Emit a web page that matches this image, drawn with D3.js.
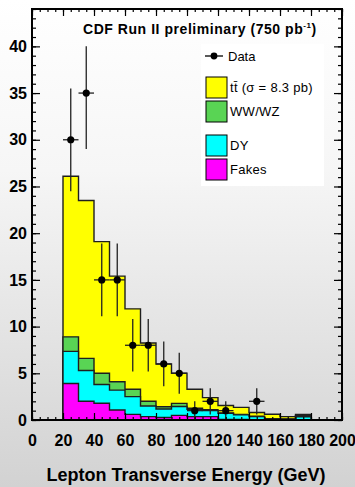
<!DOCTYPE html>
<html>
<head>
<meta charset="utf-8">
<script src="https://d3js.org/d3.v7.min.js"></script>
<style>
  body { margin: 0; padding: 0; overflow: hidden; }
  text { font-family: "Liberation Sans", Arial, sans-serif; }
</style>
</head>
<body>
<div id="chart"></div>
<script>
// bin low edges (GeV), 10 GeV wide
var binLow = [20, 30, 40, 50, 60, 70, 80, 90, 100, 110, 120, 130, 140, 150, 160, 170];
var binWidth = 10;

// background components (events per bin)
var fakes = [3.9, 2.0, 1.8, 1.07, 0.6, 0.36, 0.27, 0.5, 0.36, 0.36, 0.05, 0.05, 0.03, 0.02, 0.02, 0.0];
var dy    = [3.45, 3.3, 2.0, 2.13, 1.9, 1.14, 0.9, 0.95, 0.78, 0.64, 0.66, 0.5, 0.33, 0.08, 0.06, 0.35];
var wwwz  = [1.55, 1.3, 1.2, 0.9, 0.8, 0.5, 0.25, 0.33, 0.11, 0.1, 0.04, 0.05, 0.04, 0.05, 0.02, 0.1];
var ttbar = [17.2, 16.9, 14.1, 11.3, 8.6, 6.25, 4.58, 3.22, 2.05, 1.3, 0.8, 0.75, 0.4, 0.47, 0.26, 0.15];

// data points
var dataX = [25, 35, 45, 55, 65, 75, 85, 95, 105, 115, 125, 145];
var dataY = [30, 35, 15, 15, 8, 8, 6, 5, 1, 2, 1, 2];
var errLo = [5.5, 6.0, 3.9, 3.9, 2.8, 2.8, 2.4, 2.2, 1.0, 1.4, 1.0, 1.4];
var errHi = [5.5, 5.0, 3.9, 3.9, 2.8, 2.8, 2.4, 2.2, 1.0, 1.4, 1.0, 1.4];

// tick labels
var xTicks = [0, 20, 40, 60, 80, 100, 120, 140, 160, 180, 200];
var yTicks = [0, 5, 10, 15, 20, 25, 30, 35, 40];

var W = 355, H = 487;
var frame = { left: 32, right: 342, top: 9, bottom: 420 };

var x = d3.scaleLinear().domain([0, 200]).range([frame.left, frame.right]);
var y = d3.scaleLinear().domain([0, 44]).range([frame.bottom, frame.top]);

var svg = d3.select("#chart").append("svg")
    .attr("width", W)
    .attr("height", H);

// slide-like grey gradient background
var grad = svg.append("defs").append("linearGradient")
    .attr("id", "bg").attr("x1", 0).attr("y1", 0).attr("x2", 0).attr("y2", 1);
grad.append("stop").attr("offset", "0").attr("stop-color", "#ffffff");
grad.append("stop").attr("offset", "0.35").attr("stop-color", "#f6f6f6");
grad.append("stop").attr("offset", "1").attr("stop-color", "#d2d2d2");
svg.append("rect").attr("width", W).attr("height", H).attr("fill", "url(#bg)");

// stack the components
var rows = binLow.map(function (b, i) {
  return { lo: b, fakes: fakes[i], dy: dy[i], wwwz: wwwz[i], ttbar: ttbar[i] };
});
var keys = ["fakes", "dy", "wwwz", "ttbar"];
var colors = { fakes: "#ff00ff", dy: "#00ffff", wwwz: "#59d454", ttbar: "#ffff00" };
var series = d3.stack().keys(keys)(rows);

function stepPath(s) {
  var p = "M" + x(binLow[0]) + "," + y(0);
  s.forEach(function (d, i) {
    p += "L" + x(binLow[i]) + "," + y(d[1]) + "L" + x(binLow[i] + binWidth) + "," + y(d[1]);
  });
  p += "L" + x(binLow[binLow.length - 1] + binWidth) + "," + y(0) + "Z";
  return p;
}

// draw cumulative histograms, largest first
svg.selectAll(".hist")
    .data(series.slice().reverse())
    .enter().append("path")
    .attr("class", "hist")
    .attr("d", stepPath)
    .attr("fill", function (s) { return colors[s.key]; })
    .attr("stroke", "#1e1e1e")
    .attr("stroke-width", 1.4)
    .attr("stroke-linejoin", "miter");

// data with error bars
var pts = svg.append("g");
dataX.forEach(function (cx, i) {
  pts.append("line")
      .attr("x1", x(cx)).attr("x2", x(cx))
      .attr("y1", y(dataY[i] - errLo[i])).attr("y2", y(dataY[i] + errHi[i]))
      .attr("stroke", "#222").attr("stroke-width", 1.3);
  pts.append("line")
      .attr("x1", x(cx - binWidth / 2)).attr("x2", x(cx + binWidth / 2))
      .attr("y1", y(dataY[i])).attr("y2", y(dataY[i]))
      .attr("stroke", "#222").attr("stroke-width", 1.3);
  pts.append("circle")
      .attr("cx", x(cx)).attr("cy", y(dataY[i]))
      .attr("r", 3.6).attr("fill", "#000");
});

// axes: ticks point inwards on all four sides
var minorX = d3.range(0, 201, 5);
var minorY = d3.range(0, 45, 1);

svg.append("g").attr("transform", "translate(0," + frame.bottom + ")")
    .call(d3.axisBottom(x).tickValues(minorX).tickSize(-3).tickFormat(""));
svg.append("g").attr("transform", "translate(0," + frame.bottom + ")")
    .call(d3.axisBottom(x).tickValues(xTicks).tickSize(-7).tickPadding(15).tickFormat(d3.format("d")));
svg.append("g").attr("transform", "translate(0," + frame.top + ")")
    .call(d3.axisTop(x).tickValues(minorX).tickSize(-3).tickFormat(""));
svg.append("g").attr("transform", "translate(0," + frame.top + ")")
    .call(d3.axisTop(x).tickValues(xTicks).tickSize(-7).tickFormat(""));

svg.append("g").attr("transform", "translate(" + frame.left + ",0)")
    .call(d3.axisLeft(y).tickValues(minorY).tickSize(-4).tickFormat(""));
svg.append("g").attr("transform", "translate(" + frame.left + ",0)")
    .call(d3.axisLeft(y).tickValues(yTicks).tickSize(-8).tickPadding(5).tickFormat(d3.format("d")));
svg.append("g").attr("transform", "translate(" + frame.right + ",0)")
    .call(d3.axisRight(y).tickValues(minorY).tickSize(-4).tickFormat(""));
svg.append("g").attr("transform", "translate(" + frame.right + ",0)")
    .call(d3.axisRight(y).tickValues(yTicks).tickSize(-8).tickFormat(""));

svg.selectAll(".domain").remove();
svg.selectAll(".tick line").attr("stroke", "#000").attr("stroke-width", 1.2);
svg.selectAll(".tick text")
    .attr("fill", "#000")
    .style("font-family", "'Liberation Sans', Arial, sans-serif")
    .style("font-size", "16px")
    .style("font-weight", "bold");

// frame
svg.append("rect")
    .attr("x", frame.left).attr("y", frame.top)
    .attr("width", frame.right - frame.left).attr("height", frame.bottom - frame.top)
    .attr("fill", "none").attr("stroke", "#000").attr("stroke-width", 2);

// title
var title = svg.append("text")
    .attr("x", 83).attr("y", 34)
    .style("font-size", "14px").style("font-weight", "bold")
    .style("letter-spacing", "0.55px");
title.append("tspan").text("CDF Run II preliminary (750 pb");
title.append("tspan").attr("dy", -6).style("font-size", "8px").text("-1");
title.append("tspan").attr("dy", 6).text(")");

// legend
var lg = svg.append("g");
lg.append("rect").attr("x", 201).attr("y", 44).attr("width", 123).attr("height", 142).attr("fill", "#fff");
lg.append("line").attr("x1", 205).attr("x2", 223).attr("y1", 56).attr("y2", 56)
    .attr("stroke", "#000").attr("stroke-width", 1.3);
lg.append("circle").attr("cx", 214).attr("cy", 56).attr("r", 3.4).attr("fill", "#000");
lg.append("text").attr("x", 228).attr("y", 61).style("font-size", "13px").text("Data");

var legItems = [
  { key: "ttbar", label: "tt\u0304 (\u03c3 = 8.3 pb)", y: 77 },
  { key: "wwwz", label: "WW/WZ", y: 101 },
  { key: "dy", label: "DY", y: 135 },
  { key: "fakes", label: "Fakes", y: 159 }
];
legItems.forEach(function (d) {
  lg.append("rect").attr("x", 206).attr("y", d.y).attr("width", 21).attr("height", 21)
      .attr("fill", colors[d.key]).attr("stroke", "#000").attr("stroke-width", 1);
  lg.append("text").attr("x", 230).attr("y", d.y + 15).style("font-size", "13px")
      .style("letter-spacing", "0.3px").text(d.label);
});

// x axis title
svg.append("text")
    .attr("x", 186).attr("y", 481)
    .attr("text-anchor", "middle")
    .style("font-size", "18px").style("font-weight", "bold")
    .text("Lepton Transverse Energy (GeV)");
</script>
</body>
</html>
